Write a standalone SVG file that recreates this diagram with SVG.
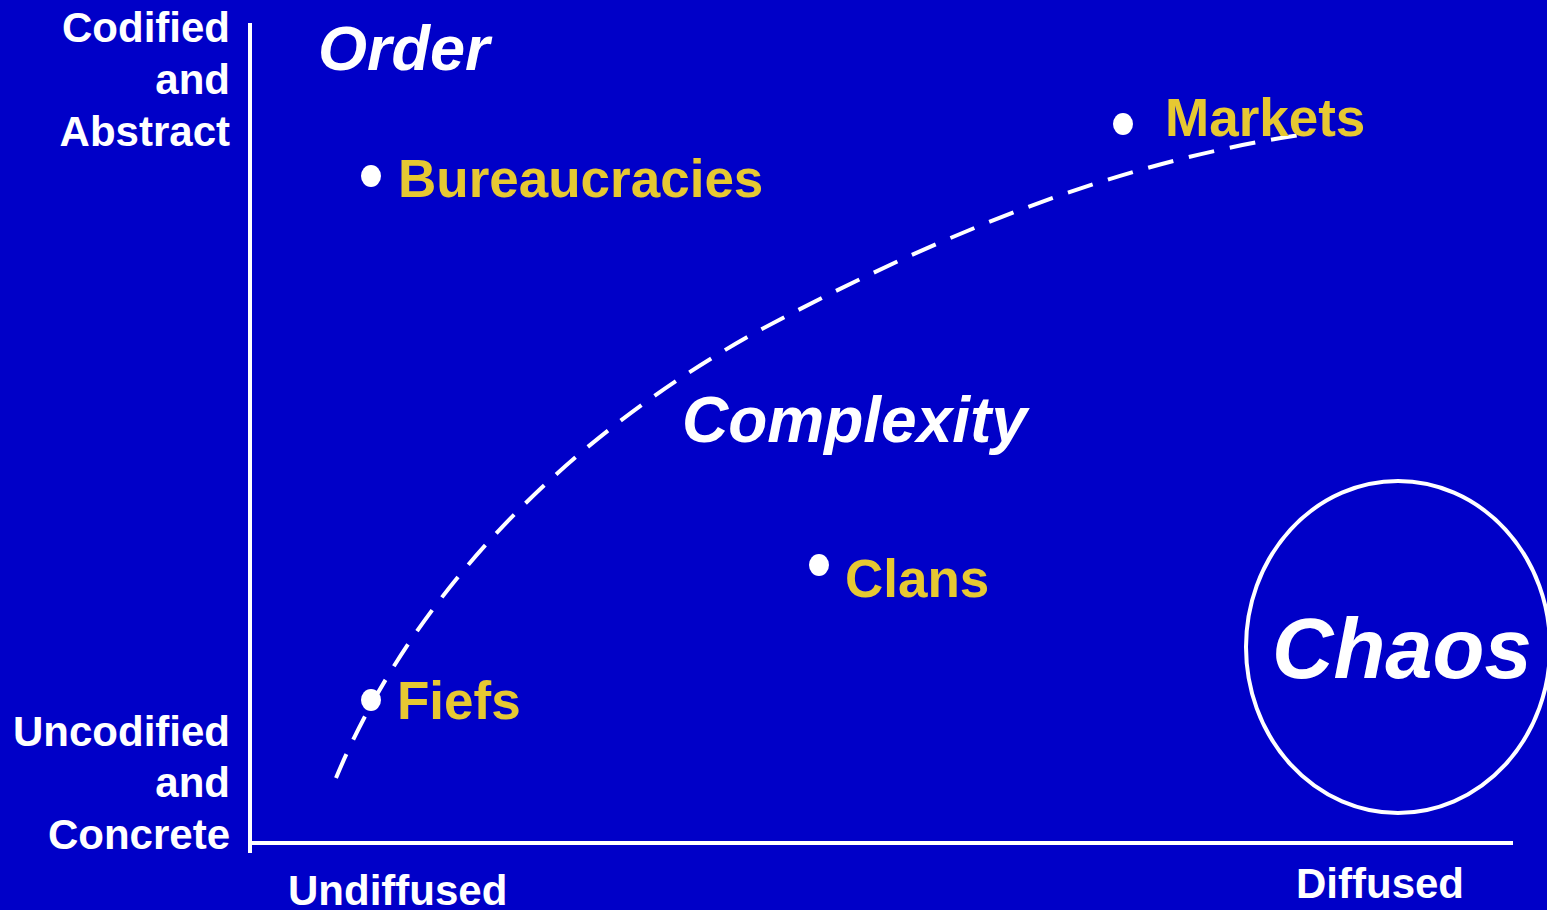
<svg xmlns="http://www.w3.org/2000/svg" width="1547" height="910" viewBox="0 0 1547 910">
<style>
.ax{font-family:"Liberation Sans",Arial,sans-serif;font-weight:bold;font-size:42px;fill:#fff}
.r{text-anchor:end}
.big{font-family:"Liberation Sans",Arial,sans-serif;font-weight:bold;font-style:italic;fill:#fff}
.lbl{font-family:"Liberation Sans",Arial,sans-serif;font-weight:bold;font-size:53px;fill:#E6C832}
.dot{fill:#fff}
.line{stroke:#fff;stroke-width:4;fill:none}
</style>
<rect width="1547" height="910" fill="#0000C8"/>
<g id="axes">
<line class="line" x1="250" y1="23" x2="250" y2="853"/>
<line class="line" x1="250" y1="843" x2="1513" y2="843"/>
<text class="ax r" x="230" y="42">Codified</text>
<text class="ax r" x="230" y="94">and</text>
<text class="ax r" x="230" y="146">Abstract</text>
<text class="ax r" x="230" y="746">Uncodified</text>
<text class="ax r" x="230" y="797">and</text>
<text class="ax r" x="230" y="849">Concrete</text>
<text class="ax" x="288" y="905">Undiffused</text>
<text class="ax" x="1296" y="898">Diffused</text>
</g>
<g id="connectors">
<path class="line" stroke-width="5" stroke-dasharray="26,16" d="M336,778 C410,600 560,440 760,330 C920,245 1100,165 1300,135"/>
</g>
<g id="order"><text class="big" x="318" y="70" font-size="63">Order</text></g>
<g id="complexity"><text class="big" x="682" y="442" font-size="64">Complexity</text></g>
<g id="chaos">
<ellipse cx="1398" cy="647" rx="152" ry="166" fill="none" stroke="#fff" stroke-width="4"/>
<text class="big" x="1272" y="678" font-size="85">Chaos</text>
</g>
<g id="bureaucracies"><ellipse class="dot" cx="371" cy="176" rx="10" ry="11"/><text class="lbl" x="398" y="197">Bureaucracies</text></g>
<g id="markets"><ellipse class="dot" cx="1123" cy="124" rx="10" ry="11"/><text class="lbl" x="1165" y="136">Markets</text></g>
<g id="clans"><ellipse class="dot" cx="819" cy="565" rx="10" ry="11"/><text class="lbl" x="845" y="597">Clans</text></g>
<g id="fiefs"><ellipse class="dot" cx="371" cy="700" rx="10" ry="11"/><text class="lbl" x="397" y="719">Fiefs</text></g>
</svg>
